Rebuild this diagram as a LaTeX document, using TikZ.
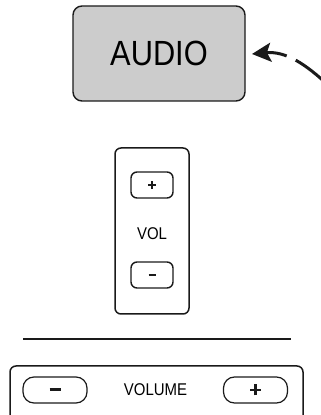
\documentclass[tikz,border=0pt]{standalone}
\usepackage{fontspec}
\setmainfont{Liberation Sans}
\newfontfamily\condfont[FakeStretch=0.88]{Liberation Sans}
\usetikzlibrary{arrows.meta}
\definecolor{boxgray}{HTML}{CCCCCC}
\definecolor{edge}{HTML}{1A1A1A}
\begin{document}
\begin{tikzpicture}[x=1pt,y=1pt,
  panel/.style={draw=edge,line width=1.5pt,rounded corners=6pt,inner sep=0pt},
  smallbtn/.style={draw=edge,line width=1.4pt,rounded corners=6pt,minimum width=42pt,minimum height=26pt,inner sep=0pt},
  pillbtn/.style={draw=edge,line width=1.2pt,rounded corners=11pt,minimum width=64pt,minimum height=26pt,inner sep=0pt},
  lbl/.style={font=\condfont\fontsize{17}{17}\selectfont,inner sep=0pt}
]
\useasboundingbox (0,0) rectangle (321,415);
\clip (0,0) rectangle (321,415);
% AUDIO button
\node[draw=edge,fill=boxgray,line width=1.4pt,rounded corners=9pt,minimum width=172pt,minimum height=95pt,inner sep=0pt,
  font=\condfont\fontsize{35}{35}\selectfont] (audio) at (159,361.5) {AUDIO};
% arrow
\coordinate (tip) at (252,361);
\coordinate (tail) at (330,328);
\draw[line width=3pt,edge,{Stealth[length=19pt,width=19pt,inset=4pt]}-,dash pattern=on 21pt off 10pt on 60pt]
  (tip) .. controls (285,364) and (305,352) .. (tail);
% VOL panel
\node[panel,minimum width=74pt,minimum height=166pt] (volpanel) at (152,184) {};
\node[smallbtn] (volplus) at (152,230) {};
\draw[line width=1.3pt,edge] ([xshift=-4pt]volplus.center) -- ([xshift=4pt]volplus.center);
\draw[line width=1.3pt,edge] ([yshift=-4pt]volplus.center) -- ([yshift=4pt]volplus.center);
\node[smallbtn] (volminus) at (152,140) {};
\draw[line width=2.4pt,edge] ([xshift=-3.5pt]volminus.center) -- ([xshift=3.5pt]volminus.center);
\node[lbl] (vol) at (152,181) {VOL};
% separator
\coordinate (sepL) at (23,76);
\coordinate (sepR) at (291,76);
\draw[line width=2.6pt,edge] (sepL) -- (sepR);
% VOLUME panel
\node[panel,minimum width=293pt,minimum height=60pt] (volumepanel) at (156.5,19) {};
\node[pillbtn] (vminus) at (55,25) {};
\draw[line width=3pt,edge] ([xshift=-5.5pt]vminus.center) -- ([xshift=5.5pt]vminus.center);
\node[pillbtn] (vplus) at (255.5,25) {};
\draw[line width=2.6pt,edge] ([xshift=-5.5pt]vplus.center) -- ([xshift=5.5pt]vplus.center);
\draw[line width=2.6pt,edge] ([yshift=-5.5pt]vplus.center) -- ([yshift=5.5pt]vplus.center);
\node[lbl] (volume) at (155.5,25) {VOLUME};
\end{tikzpicture}
\end{document}
